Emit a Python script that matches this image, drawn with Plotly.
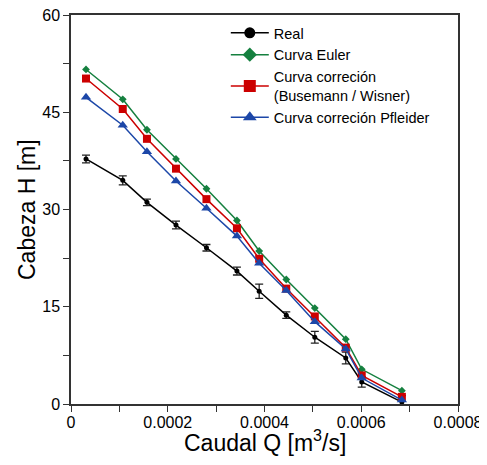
import plotly.graph_objects as go

# Data
caudal_q = [3.1e-5, 1.07e-4, 1.57e-4, 2.17e-4, 2.80e-4, 3.43e-4,
            3.89e-4, 4.45e-4, 5.04e-4, 5.68e-4, 6.01e-4, 6.84e-4]
h_real = [37.8, 34.5, 31.1, 27.6, 24.1, 20.5, 17.4, 13.7, 10.3, 7.1, 3.4, 0.3]
h_real_err = [0.6, 0.7, 0.5, 0.6, 0.5, 0.6, 1.1, 0.5, 0.9, 0.9, 0.8, 1.0]
h_euler = [51.6, 47.0, 42.3, 37.8, 33.2, 28.3, 23.6, 19.2, 14.8, 10.0, 5.35, 2.05]
h_busemann = [50.2, 45.5, 40.9, 36.3, 31.6, 27.1, 22.4, 17.8, 13.5, 8.7, 4.4, 1.1]
h_pfleider = [47.3, 43.0, 38.9, 34.4, 30.2, 25.9, 21.7, 17.5, 12.7, 8.5, 4.0, 0.6]

names = ["Real", "Curva Euler", "Curva correción<br>(Busemann / Wisner)",
         "Curva correción Pfleider"]
colors = ["#000000", "#15803f", "#cc0000", "#1c47a8"]
symbols = ["circle", "diamond", "square", "triangle-up"]

x_tickvals = [0, 0.0002, 0.0004, 0.0006, 0.0008]
x_ticktext = ["0", "0.0002", "0.0004", "0.0006", "0.0008"]
y_tickvals = [0, 15, 30, 45, 60]
x_title = "Caudal Q [m<sup>3</sup>/s]"
y_title = "Cabeza H [m]"

FONT = "Arial, Liberation Sans, sans-serif"

fig = go.Figure()

series = [h_real, h_euler, h_busemann, h_pfleider]
data_sizes = [5, 6, 8, 9]
for i, ys in enumerate(series):
    kw = {}
    if i == 0:
        kw["error_y"] = dict(type="data", array=h_real_err, visible=True,
                             color="#222222", thickness=1.3, width=4)
    fig.add_trace(go.Scatter(
        x=caudal_q, y=ys, mode="lines+markers", showlegend=False,
        line=dict(color=colors[i], width=1.5),
        marker=dict(color=colors[i], symbol=symbols[i], size=data_sizes[i]),
        **kw))

# legend entries with larger markers
legend_sizes = [11, 11, 12, 12]
for i in range(4):
    fig.add_trace(go.Scatter(
        x=[None], y=[None], mode="lines+markers", name=names[i],
        line=dict(color=colors[i], width=1.5),
        marker=dict(color=colors[i], symbol=symbols[i], size=legend_sizes[i])))

# page body has an 8px margin: figure is sized/offset to compensate
fig.update_layout(
    width=479, height=457,
    margin=dict(l=63, r=29, t=7, b=61, autoexpand=False),
    paper_bgcolor="white", plot_bgcolor="white",
    font=dict(family=FONT, color="#000000"),
    legend=dict(x=0.40, y=0.995, xanchor="left", yanchor="top",
                bgcolor="rgba(0,0,0,0)", font=dict(size=14.5, family=FONT),
                itemwidth=38, tracegroupgap=0),
    xaxis=dict(range=[0, 0.0008], tickvals=x_tickvals, ticktext=x_ticktext,
               automargin=False, ticklabelstandoff=-3, ticklabeloverflow="allow",
               showgrid=False, zeroline=False, showline=True, mirror=True,
               linecolor="#333333", linewidth=1.5,
               ticks="outside", ticklen=6, tickwidth=1.2, tickcolor="#333333",
               tickfont=dict(size=16),
               minor=dict(dtick=0.0001, ticks="outside", ticklen=6,
                          tickwidth=1.2, tickcolor="#333333")),
    yaxis=dict(range=[0, 60], tickvals=y_tickvals,
               automargin=False, ticklabeloverflow="allow",
               showgrid=False, zeroline=False, showline=True, mirror=True,
               linecolor="#333333", linewidth=1.5,
               ticks="outside", ticklen=6, tickwidth=1.2, tickcolor="#333333",
               tickfont=dict(size=16),
               minor=dict(dtick=7.5, ticks="outside", ticklen=6,
                          tickwidth=1.2, tickcolor="#333333")),
    annotations=[
        dict(text=x_title, xref="paper", yref="paper", x=0.5, y=-0.095,
             xanchor="center", yanchor="middle", showarrow=False,
             font=dict(size=23, family=FONT)),
        dict(text=y_title, xref="paper", yref="paper", x=-0.115, y=0.5,
             xanchor="center", yanchor="middle", showarrow=False, textangle=-90,
             font=dict(size=23, family=FONT)),
    ],
)

fig.write_html("out.html")
